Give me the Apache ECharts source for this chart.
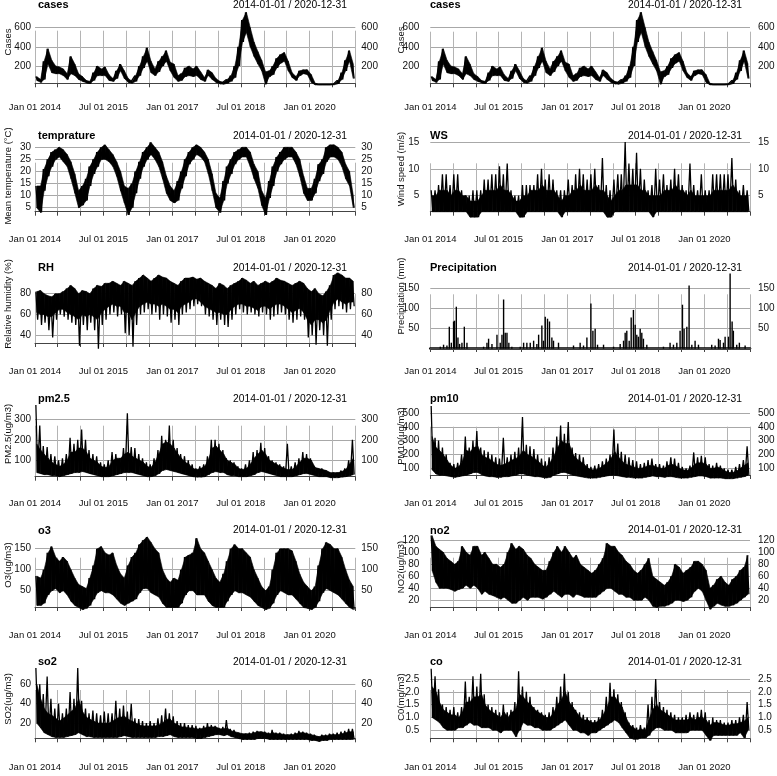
<!DOCTYPE html>
<html>
<head>
<meta charset="utf-8">
<script src="https://cdn.jsdelivr.net/npm/echarts@6/dist/echarts.min.js"></script>
<style>html,body{margin:0;padding:0;background:#fff}#main{width:777px;height:776px}</style>
</head>
<body>
<div id="main"></div>
<script>
// monthly values, Jan 2014 .. Dec 2020
// Hi / Lo: extremes of the month; Typ / Base: edge of the dense part of the trace
var casesHi = [90,60,250,380,260,200,190,170,120,300,220,120, 90,50,40,130,200,170,190,110,70,150,220,150, 70,40,100,200,300,390,250,170,250,300,360,240, 220,100,120,180,200,170,200,140,80,160,130,70, 40,30,60,100,200,400,680,760,600,450,350,260, 140,150,200,280,320,340,250,130,90,150,160,160, 110,20,6,6,6,6,10,50,130,260,360,220];
var casesLo = [50,30,60,220,130,120,120,100,60,120,100,60, 40,25,20,50,100,100,100,50,40,70,150,70, 30,20,40,100,180,250,130,100,140,200,250,150, 80,40,50,90,100,90,100,60,40,100,60,30, 15,10,20,40,80,200,450,550,400,300,220,150, 10,90,110,180,230,250,150,80,50,100,120,110, 30,3,3,3,3,3,4,15,60,150,250,70];

var tempHi = [14,14,21,25,28,29,30,29,27,24,19,12, 14,17,22,25,28,30,31,29,27,24,20,14, 13,15,20,24,28,30,32,30,28,24,18,14, 12,16,20,25,28,30,31,30,28,25,19,11, 9,16,22,25,28,29,30,30,28,23,20,12, 9,16,22,26,28,30,30,30,28,25,18,13, 13,17,23,25,30,31,31,30,28,23,20,10];
var tempLo = [5,3,12,18,22,25,26,24,22,17,11,5, 6,8,14,19,22,25,25,24,22,18,12,7, 2,5,11,17,22,25,27,25,22,17,11,8, 7,8,13,18,23,25,27,26,24,19,12,5, 3,8,15,19,23,25,26,26,22,17,13,6, 2,9,14,20,23,25,26,26,23,18,11,8, 8,11,16,19,24,26,26,25,22,17,14,5];

var wsHi = [6,6,7,9,9,7,9,9,6,5,5,6, 6,6,8,8,9,9,10.5,9,11,6,5,5, 7,7,7,7,9,10,8,9,8,6,6,6, 8,7,9,10,9,8,9,10,7,12,7,6, 8,9,9,15,11,10,13,10,8,6,7,10, 8,9,7,8,10,9,7,6,11,7,6,9, 6,6,9,9,9,9,9,12,8,6,7,6];
var wsTyp = [5,5,6,6,6,5,6,6,5,5,4,4, 4,5,6,6,6,6,7,6,6,5,4,4, 5,5,6,6,6,7,6,6,6,5,4,5, 5,6,6,7,6,6,6,7,6,6,5,4, 5,6,6,7,7,7,7,6,6,5,5,5, 5,6,6,6,7,6,6,5,6,5,5,5, 5,5,6,6,6,6,6,7,6,5,5,5];
var wsLo = [2,2,2,2,2,2,2,2,2,2,1,1, 1,2,2,2,2,2,2,2,2,2,2,1, 1,2,2,2,2,2,2,2,2,2,1,2, 2,2,2,2,2,2,2,2,2,2,1,1, 2,2,2,2,2,2,2,2,2,2,1,2, 2,2,2,2,2,2,2,2,2,2,2,2, 2,2,2,2,2,2,2,2,2,2,2,2];

var rhHi = [82,83,80,78,77,80,80,82,85,88,85,80, 83,82,80,85,88,87,90,90,92,90,88,92, 90,88,92,95,98,95,92,95,98,96,95,92, 90,88,92,95,95,96,94,95,92,90,88,85, 90,88,85,88,90,92,95,93,90,92,88,90, 92,90,92,95,93,92,90,88,90,92,90,85, 82,85,80,78,82,88,98,100,98,95,95,92];
var rhBase = [62,60,60,58,58,62,65,65,62,60,58,55, 60,58,60,58,55,62,65,68,70,68,68,62, 62,55,62,68,70,72,70,70,68,70,68,65, 65,62,68,70,72,75,75,72,68,66,64,62, 62,60,60,65,68,70,70,68,68,66,64,68, 68,65,68,70,70,68,65,62,64,66,62,55, 50,55,55,52,55,65,72,75,72,70,72,72];
var rhLo = [55,50,52,45,38,55,60,58,55,52,50,30, 50,45,52,45,27,50,55,60,62,58,60,42, 40,29,50,60,62,65,60,62,55,60,58,52, 55,50,60,62,65,68,70,68,60,58,55,50, 55,50,48,55,60,65,62,60,62,60,58,62, 60,55,58,60,62,60,55,52,55,58,55,38, 40,31,45,40,30,55,65,68,65,62,65,68];

// daily rain events (mm)
var precipDates = ['2014-03-22','2014-04-17','2014-05-14','2014-06-02','2014-06-18','2014-07-06','2014-07-14','2014-07-28','2014-08-10','2014-08-23','2014-09-11','2014-09-30','2014-10-21',
  '2015-03-03','2015-03-30','2015-04-12','2015-05-09','2015-06-18','2015-07-14','2015-07-28','2015-08-10','2015-08-23','2015-09-06','2015-09-21','2015-10-15',
  '2015-12-21','2016-01-17','2016-02-12','2016-03-10','2016-04-06','2016-05-02','2016-05-16','2016-06-11','2016-06-24','2016-07-08','2016-07-26','2016-08-11','2016-08-30','2016-09-12','2016-10-22',
  '2017-02-19','2017-04-13','2017-05-10','2017-06-06','2017-07-08','2017-07-24','2017-08-11','2017-08-30','2017-10-17',
  '2018-01-05','2018-02-27','2018-03-26','2018-04-08','2018-04-21','2018-05-10','2018-05-26','2018-06-13','2018-06-27','2018-07-10','2018-07-23','2018-08-06','2018-08-19','2018-09-01','2018-09-28',
  '2019-02-08','2019-04-02','2019-04-29','2019-05-26','2019-06-21','2019-07-10','2019-07-23','2019-08-14','2019-09-01','2019-09-23','2019-10-19','2019-11-15',
  '2020-02-29','2020-03-27','2020-04-23','2020-05-06','2020-06-02','2020-06-15','2020-07-12','2020-07-25','2020-08-10','2020-08-20','2020-09-16','2020-10-07','2020-11-22'];
var precipValues = [5,10,8,55,15,68,70,105,28,12,15,55,15,
  5,15,25,12,35,15,35,123,40,40,15,5,
  5,15,15,15,20,12,35,58,20,80,75,68,28,20,15,
  8,15,8,28,113,45,50,10,10,
  5,12,20,40,45,20,78,97,60,35,30,50,40,25,10,
  5,15,10,15,45,110,50,55,158,10,20,10,
  10,8,25,22,15,30,30,188,68,45,10,15,8];

var pm25Hi = [370,270,170,165,130,120,100,110,130,210,180,200, 250,200,150,130,120,90,80,100,140,130,110,160, 330,165,160,130,110,90,80,110,150,220,200,270, 200,160,130,120,100,80,60,70,80,120,200,200, 180,150,110,100,90,70,60,80,100,140,150,185, 160,120,100,90,80,70,180,70,90,110,140,130, 110,70,60,60,50,40,40,40,50,60,100,200];
var pm25Typ = [180,150,130,110,90,80,70,80,100,140,140,160, 160,140,110,100,90,70,65,70,100,110,110,130, 140,120,110,100,90,70,65,90,130,180,190,180, 160,130,110,90,80,60,55,60,70,100,160,170, 150,130,100,90,80,60,55,60,80,110,130,150, 130,100,90,80,70,60,55,55,70,90,110,110, 100,65,60,55,50,40,40,40,45,55,80,110];
var pm25Lo = [40,35,30,30,25,25,20,25,30,35,40,40, 45,40,35,30,25,20,20,20,25,30,35,40, 40,40,35,30,25,20,20,25,35,50,55,50, 45,40,35,30,25,20,18,18,20,30,40,45, 40,40,30,25,25,20,20,20,25,30,40,45, 40,35,30,25,20,20,20,20,25,30,35,35, 30,25,20,20,20,15,15,15,18,20,25,30];

var pm10Hi = [550,320,300,250,200,140,130,140,200,330,250,300, 370,250,230,220,200,180,170,320,180,200,220,250, 470,270,260,240,200,170,150,180,250,330,410,350, 435,250,210,200,180,130,110,120,130,150,170,200, 380,280,220,200,180,160,150,130,140,160,170,130, 130,120,150,180,170,140,110,100,120,215,180,190, 180,130,120,140,120,100,90,90,110,130,160,260];
var pm10Typ = [330,250,230,200,160,120,100,110,150,230,220,250, 260,200,180,170,150,130,120,130,140,160,170,190, 230,200,190,170,150,120,110,140,190,250,300,280, 280,200,170,150,130,100,90,90,100,120,140,170, 220,180,150,130,120,110,100,100,110,120,120,110, 100,100,120,130,120,100,90,85,100,130,140,140, 130,100,100,110,100,80,70,70,80,100,120,140];
var pm10Lo = [90,60,50,50,45,40,35,40,45,50,60,70, 70,55,45,40,40,35,35,40,40,45,50,60, 60,50,45,40,40,35,30,35,50,60,70,70, 60,50,45,40,35,30,30,30,35,40,45,50, 50,45,40,35,35,30,30,30,35,40,45,40, 40,35,40,40,35,30,30,30,35,40,45,45, 40,30,30,30,30,25,25,25,30,35,40,50];

var o3Hi = [85,80,100,140,155,130,120,130,120,100,80,65, 60,55,80,110,150,155,140,135,140,110,90,80, 110,130,140,160,170,178,165,150,140,100,80,70, 80,75,100,130,135,140,175,150,140,120,100,80, 70,90,120,150,160,150,150,140,130,100,80,60, 50,60,100,140,150,150,150,145,120,90,70,60, 50,60,110,150,165,160,150,150,130,100,75,60];
var o3Lo = [15,15,20,40,50,55,45,50,40,25,15,10, 5,8,15,30,45,50,45,45,40,30,20,15, 20,25,30,45,55,55,45,40,35,20,10,10, 10,10,20,40,50,50,40,40,40,25,15,10, 10,10,25,40,50,45,45,40,35,25,15,10, 5,8,20,40,50,45,40,40,30,20,10,8, 5,10,25,45,55,50,45,40,30,20,10,5];

var no2Hi = [128,110,105,100,90,85,80,85,110,100,95,110, 110,95,100,90,80,80,75,80,100,115,105,110, 105,95,90,80,75,70,70,85,100,110,100,110, 100,90,95,80,75,70,65,70,80,90,115,110, 110,100,95,85,80,70,65,70,80,90,60,55, 50,45,50,60,80,75,65,70,75,85,85,80, 70,40,45,55,60,50,45,55,60,70,75,95];
var no2Lo = [70,50,40,40,40,38,35,38,40,45,40,45, 40,30,35,30,28,25,22,25,20,15,15,20, 25,20,25,25,25,22,25,30,35,30,25,30, 30,25,30,28,25,25,25,25,30,35,40,40, 35,30,30,25,25,20,20,20,25,20,10,8, 10,10,12,15,20,20,18,20,25,35,40,35, 20,5,10,15,12,10,10,12,15,20,25,30];

var so2Hi = [77,60,50,68,45,35,40,30,35,52,45,77, 43,35,30,33,30,28,32,30,30,43,35,38, 32,40,25,24,22,20,22,20,25,28,35,30, 27,22,20,20,18,18,17,15,17,20,18,17, 15,16,23,14,13,10,9,9,10,11,12,11, 11,10,13,10,10,9,8,9,10,12,11,10, 9,8,6,8,8,9,9,10,11,12,14,14];
var so2Typ = [60,45,35,30,28,25,22,25,28,32,35,45, 32,26,24,22,20,20,20,20,22,25,26,27, 24,22,20,18,17,17,17,17,18,20,24,24, 20,18,16,16,15,15,14,14,15,16,16,16, 14,14,15,12,11,10,9,9,9,10,11,11, 10,9,10,9,9,8,8,8,9,10,10,9, 8,7,6,7,7,8,8,8,9,10,11,11];
var so2Lo = [20,15,10,8,6,5,5,5,6,7,8,10, 8,6,6,5,5,5,5,5,5,5,6,7, 6,5,5,5,5,5,5,5,6,6,7,8, 6,5,5,5,5,5,4,4,5,6,7,8, 8,7,8,6,5,4,3,3,3,3,4,4, 4,3,3,3,3,3,3,3,3,3,3,3, 2,2,1,2,2,3,3,3,3,3,3,3];

var coHi = [2.9,2.6,2.1,1.5,1.4,1.3,1.4,1.2,1.4,2.4,1.8,2.6, 2.2,2.7,1.9,1.5,1.4,1.3,1.2,1.5,1.2,1.3,1.6,2.8, 2.2,2.0,1.8,1.4,1.3,1.2,1.1,1.2,1.4,1.8,2.2,2.7, 2.0,1.6,1.3,1.2,1.1,1.0,0.9,0.9,1.0,1.3,1.8,2.35, 2.1,1.9,1.6,1.2,0.8,0.7,0.6,0.7,0.6,1.5,1.8,2.5, 1.6,1.4,1.3,1.2,1.1,1.0,1.0,1.1,1.2,1.1,1.2,1.3, 1.2,0.9,1.0,0.9,0.9,0.8,0.8,0.9,0.9,1.0,1.1,1.6];
var coTyp = [2.2,2.0,1.6,1.3,1.2,1.1,1.1,1.0,1.2,1.6,1.6,1.8, 1.8,1.9,1.5,1.3,1.2,1.1,1.0,1.2,1.0,1.2,1.3,1.9, 1.8,1.6,1.5,1.3,1.2,1.1,1.0,1.0,1.2,1.5,1.7,2.0, 1.6,1.4,1.2,1.0,0.9,0.9,0.8,0.8,0.9,1.1,1.4,1.8, 1.8,1.6,1.4,1.0,0.7,0.6,0.5,0.55,0.5,0.9,1.3,1.5, 1.3,1.2,1.1,1.0,0.9,0.9,0.9,0.9,1.0,0.9,1.0,1.0, 0.9,0.7,0.8,0.8,0.75,0.7,0.7,0.75,0.75,0.8,0.85,1.0];
var coLo = [1.0,0.9,0.8,0.6,0.5,0.5,0.5,0.6,0.6,0.7,0.8,0.7, 0.7,0.6,0.6,0.6,0.5,0.5,0.4,0.5,0.5,0.5,0.25,0.5, 0.8,0.7,0.7,0.6,0.6,0.5,0.5,0.5,0.6,0.7,0.8,0.9, 0.7,0.5,0.5,0.4,0.4,0.3,0.4,0.4,0.5,0.6,0.7,0.8, 0.9,0.8,0.6,0.4,0.2,0.15,0.15,0.2,0.2,0.3,0.5,0.6, 0.6,0.5,0.5,0.5,0.4,0.4,0.4,0.4,0.5,0.5,0.5,0.5, 0.3,0.1,0.3,0.3,0.3,0.3,0.3,0.3,0.3,0.4,0.2,0.5];

var dateRange = '2014-01-01 / 2020-12-31';
var monthNames = ['Jan','Feb','Mar','Apr','May','Jun','Jul','Aug','Sep','Oct','Nov','Dec'];
var font = '"Liberation Sans", Arial, sans-serif';

function monthDate(m, day) {
  return new Date(2014 + Math.floor(m / 12), m % 12, day).getTime();
}
function dayOf(str) {
  var s = str.split('-');
  return new Date(+s[0], +s[1] - 1, +s[2]).getTime();
}
// trace through the monthly extremes
function zigzag(hi, lo) {
  var out = [];
  for (var m = 0; m < hi.length; m++) {
    out.push([monthDate(m, 8), hi[m]]);
    out.push([monthDate(m, 22), lo[m]]);
  }
  return out;
}
// dense part of the trace, one quad per month pair
function band(lo, hi) {
  var out = [];
  for (var m = 0; m < lo.length - 1; m++) {
    out.push([monthDate(m, 15), lo[m], hi[m], monthDate(m + 1, 15), lo[m + 1], hi[m + 1]]);
  }
  return out;
}
function renderBand(params, api) {
  var a = api.coord([api.value(0), api.value(2)]);
  var b = api.coord([api.value(3), api.value(5)]);
  var c = api.coord([api.value(3), api.value(4)]);
  var d = api.coord([api.value(0), api.value(1)]);
  return {type: 'polygon', shape: {points: [a, b, c, d]}, style: {fill: '#000', stroke: '#000', lineWidth: 0.6}};
}

var tMin = new Date(2014, 0, 1).getTime();
var tMax = new Date(2020, 11, 31).getTime();
var halfYears = [];
for (var y = 2014; y <= 2020; y++) {
  halfYears.push(new Date(y, 0, 1).getTime(), new Date(y, 6, 1).getTime());
}
halfYears.push(tMax);
var labelTicks = [new Date(2014,0,1).getTime(), new Date(2015,6,1).getTime(), new Date(2017,0,1).getTime(), new Date(2018,6,1).getTime(), new Date(2020,0,1).getTime()];

var cols = [
  {left: 35, right: 355.3, titleX: 38, dateRight: 347, nameX: 8, labL: 4, labR: 6},
  {left: 430.3, right: 750, titleX: 430, dateRight: 742, nameX: 401, labL: 11, labR: 8}
];
var titleY = [5, 136.4, 267.8, 399.2, 530.6, 662];
var axisY = [88.3, 220.3, 352.3, 484.3, 616.3, 748.3];

var panels = [
  {title:'cases', yName:'Cases', hi:casesHi, lo:casesLo, min:0, max:800, step:200, top:8.5, bottom:85.2, vTop:30.7, vBottom:83.3, nameY:42},
  {title:'cases', yName:'Cases', hi:casesHi, lo:casesLo, min:0, max:800, step:200, top:8.5, bottom:85.2, vTop:31.7, vBottom:83.3, nameY:40},
  {title:'temprature', yName:'Mean temperature (°C)', hi:tempHi, lo:tempLo, min:0, max:35, step:5, top:135.2, bottom:219.8, vTop:162.7, vBottom:211.7, nameY:176},
  {title:'WS', yName:'Wind speed (m/s)', hi:wsHi, lo:wsLo, bandHi:wsTyp, min:0, max:20, step:5, top:115.2, bottom:222.5, vTop:163.3, vBottom:211.7, nameY:169},
  {title:'RH', yName:'Relative humidity (%)', hi:rhHi, lo:rhLo, bandLo:rhBase, min:20, max:100, step:20, top:272.9, bottom:356.1, vTop:294, vBottom:343, nameY:304},
  {title:'Precipitation', yName:'Precipitation (mm)', precip:true, min:0, max:200, step:50, top:268.7, bottom:348.7, vTop:294.3, vBottom:348, nameY:296},
  {title:'pm2.5', yName:'PM2.5(ug/m3)', hi:pm25Hi, lo:pm25Lo, bandHi:pm25Typ, min:0, max:400, step:100, top:398.8, bottom:480.8, vTop:425.7, vBottom:476.7, nameY:434},
  {title:'pm10', yName:'PM10(ug/m3)', hi:pm10Hi, lo:pm10Lo, bandHi:pm10Typ, min:0, max:600, step:100, top:399.1, bottom:482.2, vTop:426.7, vBottom:475, nameY:436},
  {title:'o3', yName:'O3(ug/m3)', hi:o3Hi, lo:o3Lo, min:0, max:200, step:50, top:527.7, bottom:611.7, vTop:557.7, vBottom:607, nameY:565},
  {title:'no2', yName:'NO2(ug/m3)', hi:no2Hi, lo:no2Lo, min:0, max:140, step:20, top:528.3, bottom:612.3, vTop:557.7, vBottom:607, nameY:567},
  {title:'so2', yName:'SO2(ug/m3)', hi:so2Hi, lo:so2Lo, bandHi:so2Typ, min:0, max:80, step:20, top:665, bottom:742.4, vTop:690, vBottom:738.3, nameY:699},
  {title:'co', yName:'C0(mg/m3)', hi:coHi, lo:coLo, bandHi:coTyp, min:0, max:3, step:0.5, top:666.1, bottom:743.1, vTop:690, vBottom:738.3, nameY:697}
];

function dateLabel(v) {
  var d = new Date(v);
  var dd = d.getDate() < 10 ? '0' + d.getDate() : '' + d.getDate();
  return monthNames[d.getMonth()] + ' ' + dd + ' ' + d.getFullYear();
}

var grids = [], xAxes = [], yAxes = [], series = [], graphics = [];

panels.forEach(function (p, i) {
  var c = cols[i % 2];
  var row = Math.floor(i / 2);
  var w = c.right - c.left;
  var ga = grids.length;
  // plot area
  grids.push({left: c.left, top: p.top, width: w, height: p.bottom - p.top, outerBoundsMode: 'none'});
  // band carrying the vertical grid lines and the date axis
  grids.push({left: c.left, top: p.vTop, width: w, height: p.vBottom - p.vTop, outerBoundsMode: 'none'});

  xAxes.push({
    type: 'value', gridIndex: ga, min: tMin, max: tMax, show: !!p.precip,
    axisLine: {show: true, onZero: false, lineStyle: {color: '#000', width: 2.5}},
    axisTick: {show: false}, axisLabel: {show: false}, splitLine: {show: false}
  });
  xAxes.push({
    type: 'value', gridIndex: ga + 1, min: tMin, max: tMax,
    offset: axisY[row] - p.vBottom,
    axisLine: {show: true, lineStyle: {color: '#444', width: 1}},
    axisTick: {show: true, length: 4, customValues: halfYears, lineStyle: {color: '#444'}},
    axisLabel: {
      customValues: labelTicks, margin: 14, color: '#111', fontSize: 9.5, fontFamily: font,
      formatter: dateLabel
    },
    splitLine: {show: true, lineStyle: {color: '#b4b4b4', width: 1}}
  });

  var fmt = function (v) { return p.step < 1 ? v.toFixed(1) : String(v); };
  yAxes.push({
    type: 'value', gridIndex: ga, position: 'left', min: p.min, max: p.max, interval: p.step,
    axisLine: {show: false}, axisTick: {show: false},
    axisLabel: {showMinLabel: false, showMaxLabel: false, margin: c.labL, color: '#111', fontSize: 10, fontFamily: font, formatter: fmt},
    splitLine: {show: true, showMinLine: false, showMaxLine: false, lineStyle: {color: '#a8a8a8', width: 1}}
  });
  yAxes.push({
    type: 'value', gridIndex: ga, position: 'right', min: p.min, max: p.max, interval: p.step,
    axisLine: {show: false}, axisTick: {show: false},
    axisLabel: {showMinLabel: false, showMaxLabel: false, margin: c.labR, color: '#111', fontSize: 10, fontFamily: font, formatter: fmt},
    splitLine: {show: false}
  });
  yAxes.push({type: 'value', gridIndex: ga + 1, min: 0, max: 1, show: false});

  var xi = 2 * i, yi = 3 * i;
  if (p.precip) {
    series.push({
      type: 'bar', xAxisIndex: xi, yAxisIndex: yi, barWidth: 1.4,
      itemStyle: {color: '#000'},
      data: precipDates.map(function (d, k) { return [dayOf(d), precipValues[k]]; })
    });
  } else {
    series.push({
      type: 'custom', xAxisIndex: xi, yAxisIndex: yi, renderItem: renderBand,
      encode: {x: [0, 3], y: [1, 2, 4, 5]}, z: 2,
      data: band(p.bandLo || p.lo, p.bandHi || p.hi)
    });
    series.push({
      type: 'line', xAxisIndex: xi, yAxisIndex: yi, showSymbol: false, symbol: 'none', z: 3,
      lineStyle: {color: '#000', width: 1.3}, data: zigzag(p.hi, p.lo)
    });
  }

  graphics.push({type: 'text', x: c.titleX, y: titleY[row], style: {text: p.title, fill: '#000', font: 'bold 11px ' + font, align: 'left', verticalAlign: 'middle'}});
  graphics.push({type: 'text', x: c.dateRight, y: titleY[row], style: {text: dateRange, fill: '#000', font: '10.3px ' + font, align: 'right', verticalAlign: 'middle'}});
  graphics.push({type: 'text', x: c.nameX, y: p.nameY, rotation: Math.PI / 2, style: {text: p.yName, fill: '#111', font: '9.5px ' + font, align: 'center', verticalAlign: 'middle'}});
});

var chart = echarts.init(document.getElementById('main'));
chart.setOption({
  animation: false,
  backgroundColor: '#fff',
  grid: grids,
  xAxis: xAxes,
  yAxis: yAxes,
  series: series,
  graphic: graphics
});
</script>
</body>
</html>
